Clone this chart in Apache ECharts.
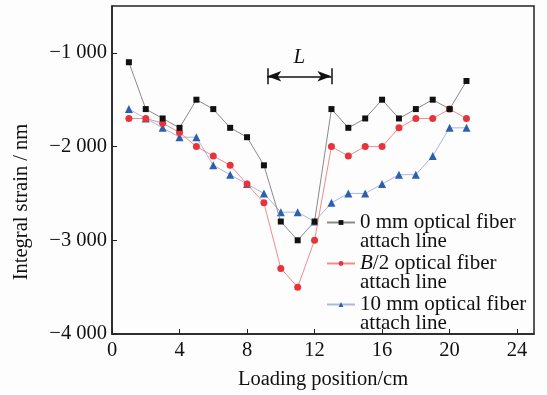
<!DOCTYPE html>
<html>
<head>
<meta charset="utf-8">
<script src="https://cdn.jsdelivr.net/npm/echarts@6/dist/echarts.min.js"></script>
<style>
    html, body { margin: 0; padding: 0; background: #fdfdfd; }
    #strainChart { width: 547px; height: 395px; }
</style>
</head>
<body>
<div id="strainChart"></div>
<script>
    // loading positions (cm)
    const positions = [1, 2, 3, 4, 5, 6, 7, 8, 9, 10, 11, 12, 13, 14, 15, 16, 17, 18, 19, 20, 21]
    // integral strain (nm)
    const line0mm = [-1100, -1600, -1700, -1800, -1500, -1600, -1800, -1900, -2200, -2800, -3000,
        -2800, -1600, -1800, -1700, -1500, -1700, -1600, -1500, -1600, -1300]
    const lineHalfB = [-1700, -1700, -1750, -1850, -2000, -2100, -2200, -2400, -2600, -3300, -3500,
        -3000, -2000, -2100, -2000, -2000, -1800, -1700, -1700, -1600, -1700]
    const line10mm = [-1600, -1700, -1800, -1900, -1900, -2200, -2300, -2400, -2500, -2700, -2700,
        -2800, -2600, -2500, -2500, -2400, -2300, -2300, -2100, -1800, -1800]
    const seriesNames = ['0 mm optical fiber\nattach line', '{i|B}/2 optical fiber\nattach line', '10 mm optical fiber\nattach line']
    const xTicks = [0, 4, 8, 12, 16, 20, 24]
    const yTicks = [-4000, -3000, -2000, -1000]
    // span L marked above the curves
    const spanL = [9.2, 13]
    const spanY = -1250

    const serif = "'Liberation Serif', 'Times New Roman', serif"

    function pairs(vals) {
        return positions.map((p, i) => [p, vals[i]])
    }

    function fmtStrain(v) {
        const s = String(Math.abs(v)).replace(/\B(?=(\d{3})+(?!\d))/g, ' ')
        return (v < 0 ? '\u2212' : '') + s
    }

    const chart = echarts.init(document.getElementById('strainChart'))

    const option = {
        backgroundColor: '#fdfdfd',
        animation: false,
        grid: {
            left: 112,
            right: 13,
            top: 6,
            bottom: 61,
            show: true,
            borderColor: '#222',
            borderWidth: 1.5,
            backgroundColor: 'transparent'
        },
        legend: {
            orient: 'vertical',
            left: 321,
            top: 189,
            itemWidth: 28,
            itemHeight: 6,
            itemGap: -17,
            data: seriesNames,
            textStyle: {
                fontFamily: serif,
                fontSize: 21,
                color: '#111',
                lineHeight: 19,
                padding: [19, 0, 0, 0],
                rich: {
                    i: { fontFamily: serif, fontSize: 21, fontStyle: 'italic', color: '#111' }
                }
            }
        },
        xAxis: {
            type: 'value',
            min: 0,
            max: 25,
            interval: 4,
            name: 'Loading position/cm',
            nameLocation: 'middle',
            nameGap: 35,
            nameTextStyle: { fontFamily: serif, fontSize: 20.5, color: '#111' },
            axisLine: { show: true, lineStyle: { color: '#222', width: 1.5 } },
            axisTick: { show: true, inside: true, length: 5, lineStyle: { color: '#222' } },
            axisLabel: {
                fontFamily: serif, fontSize: 20.5, color: '#111', margin: 6,
                showMaxLabel: false,
                formatter: v => (xTicks.indexOf(v) >= 0 ? String(v) : '')
            },
            splitLine: { show: false }
        },
        yAxis: {
            type: 'value',
            min: -4000,
            max: -500,
            interval: 1000,
            name: 'Integral strain / nm',
            nameLocation: 'middle',
            nameGap: 80,
            nameTextStyle: { fontFamily: serif, fontSize: 20.5, color: '#111', padding: [0, 64, 0, 0] },
            axisLine: { show: true, lineStyle: { color: '#222', width: 1.5 } },
            axisTick: { show: true, inside: true, length: 5, lineStyle: { color: '#222' } },
            axisLabel: {
                fontFamily: serif, fontSize: 20.5, color: '#111', margin: 5,
                showMaxLabel: false,
                formatter: v => (yTicks.indexOf(v) >= 0 ? fmtStrain(v) : '')
            },
            splitLine: { show: false }
        },
        series: [
            {
                name: seriesNames[0],
                type: 'line',
                data: pairs(line0mm),
                symbol: 'rect',
                symbolSize: 6,
                lineStyle: { color: '#8a8a8a', width: 1 },
                itemStyle: { color: '#111' },
                z: 3,
                markLine: {
                    silent: true,
                    symbol: ['none', 'none'],
                    lineStyle: { color: '#111', width: 1.5, type: 'solid' },
                    label: { show: false },
                    data: [
                        [{ coord: [spanL[0], spanY + 85] }, { coord: [spanL[0], spanY - 85] }],
                        [{ coord: [spanL[1], spanY + 85] }, { coord: [spanL[1], spanY - 85] }],
                        [
                            { coord: [spanL[0], spanY], symbol: 'arrow', symbolSize: [8, 14], symbolRotate: 90 },
                            {
                                coord: [spanL[1], spanY], symbol: 'arrow', symbolSize: [8, 14],
                                label: {
                                    show: true,
                                    position: 'middle',
                                    formatter: 'L',
                                    distance: 8,
                                    fontFamily: serif,
                                    fontStyle: 'italic',
                                    fontSize: 21,
                                    color: '#111'
                                }
                            }
                        ]
                    ]
                }
            },
            {
                name: seriesNames[1],
                type: 'line',
                data: pairs(lineHalfB),
                symbol: 'circle',
                symbolSize: 7,
                lineStyle: { color: '#f08c8c', width: 1 },
                itemStyle: { color: '#e8333a' },
                z: 2
            },
            {
                name: seriesNames[2],
                type: 'line',
                data: pairs(line10mm),
                symbol: 'triangle',
                symbolSize: 8,
                lineStyle: { color: '#a9b8e2', width: 1 },
                itemStyle: { color: '#2c5fae' },
                z: 1
            }
        ]
    }

    chart.setOption(option)
    window.addEventListener('resize', () => chart.resize())
</script>
</body>
</html>
